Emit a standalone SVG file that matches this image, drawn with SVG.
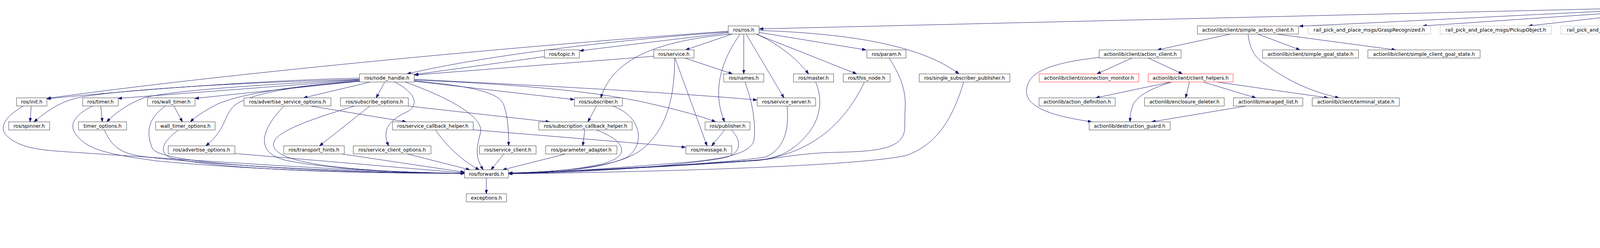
<svg xmlns="http://www.w3.org/2000/svg" width="5825" height="635" viewBox="0 0 5825 635">
<style>
rect{fill:#ffffff;stroke:#404040;stroke-width:1}
.ext rect{stroke:#bfbfbf}
.red rect{stroke:#ff3030}
.root rect{fill:#bfbfbf;stroke:#404040}
text{font-family:"DejaVu Sans",Verdana,sans-serif;font-size:12.5px;fill:#000;text-anchor:middle}
#edges path{fill:none;stroke:#191970;stroke-width:1;marker-end:url(#arr)}
</style>
<defs>
<marker id="arr" markerWidth="10" markerHeight="7" refX="10" refY="3.5" orient="auto" markerUnits="userSpaceOnUse"><path d="M0,0 L10,3.5 L0,7 z" fill="#191970" stroke="#191970" stroke-width="1"/></marker>
</defs>
<rect x="0" y="0" width="5825" height="635" style="fill:#fff;stroke:none"/>
<g id="edges">
<path d="M4294,18 L1944,74"/>
<path d="M4294,20 C3900,38 3600,55 3326,67"/>
<path d="M4294,22 L3642,66.4"/>
<path d="M4294,23 L3913,66.4"/>
<path d="M4330,25.8 L4205,66.4"/>
<path d="M4390,25.8 L4517,66.4"/>
<path d="M4425,24 L4765,66.4"/>
<path d="M4425,22.5 L4997,66.4"/>
<path d="M4425,20 L5285,66.4"/>
<path d="M4425,18 C4900,32 5300,50 5582,66.4"/>
<path d="M1864,80 C1400,112 600,185 120,252"/>
<path d="M1864,82 C1600,100 1250,140 1042,189.2"/>
<path d="M1864,84 L1484,130"/>
<path d="M1873,87 C1680,105 1570,150 1538,250.6"/>
<path d="M1875,87 L1755,127.8"/>
<path d="M1895,87 C1850,150 1820,230 1855,312"/>
<path d="M1904,87.2 L1904,189.2"/>
<path d="M1910,87 L2007,250.6"/>
<path d="M1935,87 C1990,110 2040,150 2070,189.2"/>
<path d="M1940,89 L2193,189.2"/>
<path d="M1943,83 L2217,127.8"/>
<path d="M1943,78 C2150,85 2350,110 2455,189.2"/>
<path d="M1394,145 L1061,191"/>
<path d="M1674,144 L1061,192"/>
<path d="M1753,148.6 L1875,189.2"/>
<path d="M1728,148.6 L1810,373.4"/>
<path d="M1727,148.6 C1728,260 1700,340 1640,385 C1590,420 1500,437 1302,443"/>
<path d="M920,200 C700,205 400,225 120,253"/>
<path d="M920,203 C600,212 300,230 200,250 C150,262 120,285 87,312"/>
<path d="M920,204 C700,215 450,230 370,250 C330,265 300,285 273,312"/>
<path d="M920,205 L302,252"/>
<path d="M920,208 L499,252"/>
<path d="M920,207 C750,220 620,240 560,265 C530,280 505,295 487,312"/>
<path d="M920,208 C750,220 640,240 600,270 C570,300 580,330 527,373.4"/>
<path d="M948,210 L777,250.6"/>
<path d="M985,210 L963,250.6"/>
<path d="M1010,210 C1060,235 1075,265 1045,285 C1000,305 975,330 995,373.4"/>
<path d="M1037,210 C1150,250 1240,300 1230,340 C1220,380 1215,400 1237,434.8"/>
<path d="M1060,207 C1200,220 1280,235 1290,270 C1300,300 1302,330 1302,373.4"/>
<path d="M1060,205 C1300,215 1500,230 1650,262 C1720,278 1780,292 1832,312"/>
<path d="M1060,203 C1300,215 1700,235 1938,256"/>
<path d="M1060,208 L1470,255"/>
<path d="M80,271.4 L77,312"/>
<path d="M60,271.4 C10,300 -5,330 20,350 C60,385 120,385 220,392 C500,410 900,440 1189,444"/>
<path d="M258,271.4 L262,312"/>
<path d="M237,271.4 C190,295 175,320 195,345 C225,385 280,395 400,412 C700,440 1000,443 1189,444"/>
<path d="M267,332.8 C285,370 300,390 360,400 C600,430 1000,443 1189,444"/>
<path d="M445,271.4 L467,312"/>
<path d="M423,271.4 C385,300 370,330 390,380 C410,420 800,440 1189,444"/>
<path d="M457,332.8 C420,360 400,390 440,405 C600,440 1000,444 1189,444"/>
<path d="M601,393 L1189,443"/>
<path d="M727,271.4 C670,330 650,390 730,410 C850,435 1050,443 1189,444"/>
<path d="M795,271.4 L1040,312"/>
<path d="M908,271.4 C780,310 700,340 700,370 C700,420 900,440 1189,444"/>
<path d="M947,271.4 L818,373.4"/>
<path d="M1043,271.4 L1407,312"/>
<path d="M875,394.2 L1189,441"/>
<path d="M1043,394.2 L1203,434.8"/>
<path d="M1115,332.8 C1140,370 1180,410 1227,434.8"/>
<path d="M1211,332.3 L1755,377"/>
<path d="M1290,394.2 L1257,434.8"/>
<path d="M1448,394.2 L1287,434.8"/>
<path d="M1527,271.4 L1505,312"/>
<path d="M1568,271.4 C1650,300 1650,380 1600,405 C1530,435 1400,444 1302,444"/>
<path d="M1497,332.8 L1492,373.4"/>
<path d="M1527,332.8 C1600,360 1620,400 1540,420 C1450,440 1350,443 1302,444"/>
<path d="M1855,332.8 L1822,373.4"/>
<path d="M1872,332.8 C1900,360 1900,395 1850,405 C1700,430 1450,444 1302,444"/>
<path d="M1907,210 C1930,270 1935,330 1930,360 C1920,395 1850,410 1700,420 C1550,432 1400,443 1302,444"/>
<path d="M2015,271.4 C2020,330 2010,380 1960,402 C1850,420 1450,440 1302,444"/>
<path d="M2088,210 C2110,260 2095,310 2070,340 C2030,390 1990,405 1940,410 C1700,425 1450,440 1302,444"/>
<path d="M2213,210 C2160,320 2080,385 1960,408 C1700,428 1450,440 1302,444"/>
<path d="M2276,148.6 C2310,200 2320,240 2317,280 L2316,330 C2312,380 2250,388 2140,390 C2050,392 1990,405 1940,411 C1700,428 1450,440 1302,444"/>
<path d="M2467,210 C2440,300 2400,370 2320,398 C2200,425 1700,440 1302,445"/>
<path d="M1245,455.6 L1245,496.2"/>
<path d="M3150,87.2 L2963,127.8"/>
<path d="M3220,87.2 L3328,127.8"/>
<path d="M3267,87.2 L3573,127.8"/>
<path d="M3195,87.2 C3200,130 3215,150 3240,165 C3300,210 3360,235 3428,250.6"/>
<path d="M2898,148.6 L2808,189.2"/>
<path d="M2940,148.6 L3027,189.2"/>
<path d="M2814,147 C2700,160 2640,180 2630,220 C2615,270 2680,295 2795,312"/>
<path d="M2997,210 L2805,250.6"/>
<path d="M3000,210 C2950,225 2910,245 2900,270 C2893,290 2893,300 2893,312"/>
<path d="M3045,210 L3035,250.6"/>
<path d="M3080,210 L3215,250.6"/>
<path d="M3115,210 L3400,250.6"/>
<path d="M3190,271.4 L2948,312"/>
</g>
<g id="n_pick_and_place" class="root"><rect x="4294.3" y="5" width="131" height="20.8"/><text x="4359.8" y="19.8">pick_and_place.h</text></g>
<g id="n_ros"><rect x="1864.3" y="66.4" width="79" height="20.8"/><text x="1903.8" y="81.2">ros/ros.h</text></g>
<g id="n_sac"><rect x="3065.3" y="66.4" width="258.7" height="20.8"/><text x="3194.6" y="81.2">actionlib/client/simple_action_client.h</text></g>
<g id="n_grasp" class="ext"><rect x="3348.7" y="66.4" width="313.6" height="20.8"/><text x="3505.5" y="81.2">rail_pick_and_place_msgs/GraspRecognized.h</text></g>
<g id="n_pickup" class="ext"><rect x="3686.7" y="66.4" width="285.3" height="20.8"/><text x="3829.3" y="81.2">rail_pick_and_place_msgs/PickupObject.h</text></g>
<g id="n_pickseg" class="ext"><rect x="3995.7" y="66.4" width="360.6" height="20.8"/><text x="4176" y="81.2">rail_pick_and_place_msgs/PickupSegmentedObject.h</text></g>
<g id="n_recog" class="ext"><rect x="4380" y="66.4" width="331" height="20.8"/><text x="4545.5" y="81.2">rail_pick_and_place_msgs/RecognizeAndGrasp.h</text></g>
<g id="n_segment" class="ext"><rect x="4733.7" y="66.4" width="212.6" height="20.8"/><text x="4840" y="81.2">rail_segmentation/Segment.h</text></g>
<g id="n_segobj" class="ext"><rect x="4970.3" y="66.4" width="291.4" height="20.8"/><text x="5116" y="81.2">rail_segmentation/SegmentedObjectList.h</text></g>
<g id="n_pcc"><rect x="5285.3" y="66.4" width="272" height="20.8"/><text x="5421.3" y="81.2">sensor_msgs/point_cloud_conversion.h</text></g>
<g id="n_home" class="ext"><rect x="5581.7" y="66.4" width="239" height="20.8"/><text x="5701.2" y="81.2">wpi_jaco_msgs/HomeArmAction.h</text></g>
<g id="n_topic"><rect x="1393.7" y="127.8" width="89.6" height="20.8"/><text x="1438.5" y="142.6">ros/topic.h</text></g>
<g id="n_service"><rect x="1673.7" y="127.8" width="103" height="20.8"/><text x="1725.2" y="142.6">ros/service.h</text></g>
<g id="n_param"><rect x="2219.3" y="127.8" width="100" height="20.8"/><text x="2269.3" y="142.6">ros/param.h</text></g>
<g id="n_action_client"><rect x="2814" y="127.8" width="209.7" height="20.8"/><text x="2918.9" y="142.6">actionlib/client/action_client.h</text></g>
<g id="n_sgs"><rect x="3232" y="127.8" width="245.7" height="20.8"/><text x="3354.9" y="142.6">actionlib/client/simple_goal_state.h</text></g>
<g id="n_scgs"><rect x="3501.7" y="127.8" width="287.3" height="20.8"/><text x="3645.4" y="142.6">actionlib/client/simple_client_goal_state.h</text></g>
<g id="n_node_handle"><rect x="920.3" y="189.2" width="140" height="20.8"/><text x="990.3" y="204">ros/node_handle.h</text></g>
<g id="n_names"><rect x="1852.7" y="189.2" width="102.6" height="20.8"/><text x="1904" y="204">ros/names.h</text></g>
<g id="n_master"><rect x="2031.3" y="189.2" width="102.7" height="20.8"/><text x="2082.7" y="204">ros/master.h</text></g>
<g id="n_this_node"><rect x="2158.7" y="189.2" width="120" height="20.8"/><text x="2218.7" y="204">ros/this_node.h</text></g>
<g id="n_ssp"><rect x="2353.3" y="189.2" width="232" height="20.8"/><text x="2469.3" y="204">ros/single_subscriber_publisher.h</text></g>
<g id="n_conn_mon" class="red"><rect x="2660.3" y="189.2" width="255" height="20.8"/><text x="2787.8" y="204">actionlib/client/connection_monitor.h</text></g>
<g id="n_client_helpers" class="red"><rect x="2939.3" y="189.2" width="217.4" height="20.8"/><text x="3048" y="204">actionlib/client/client_helpers.h</text></g>
<g id="n_init"><rect x="42.3" y="250.6" width="77.7" height="20.8"/><text x="81.2" y="265.4">ros/init.h</text></g>
<g id="n_timer"><rect x="211.7" y="250.6" width="91" height="20.8"/><text x="257.2" y="265.4">ros/timer.h</text></g>
<g id="n_wall_timer"><rect x="377.7" y="250.6" width="121.6" height="20.8"/><text x="438.5" y="265.4">ros/wall_timer.h</text></g>
<g id="n_aso"><rect x="624.7" y="250.6" width="222.6" height="20.8"/><text x="736" y="265.4">ros/advertise_service_options.h</text></g>
<g id="n_so"><rect x="871.7" y="250.6" width="173.6" height="20.8"/><text x="958.5" y="265.4">ros/subscribe_options.h</text></g>
<g id="n_subscriber"><rect x="1470.3" y="250.6" width="123" height="20.8"/><text x="1531.8" y="265.4">ros/subscriber.h</text></g>
<g id="n_service_server"><rect x="1938.3" y="250.6" width="149.7" height="20.8"/><text x="2013.2" y="265.4">ros/service_server.h</text></g>
<g id="n_action_def"><rect x="2660" y="250.6" width="195" height="20.8"/><text x="2757.5" y="265.4">actionlib/action_definition.h</text></g>
<g id="n_encl"><rect x="2930" y="250.6" width="204" height="20.8"/><text x="3032" y="265.4">actionlib/enclosure_deleter.h</text></g>
<g id="n_managed"><rect x="3157.7" y="250.6" width="177.6" height="20.8"/><text x="3246.5" y="265.4">actionlib/managed_list.h</text></g>
<g id="n_terminal"><rect x="3359.3" y="250.6" width="223" height="20.8"/><text x="3470.8" y="265.4">actionlib/client/terminal_state.h</text></g>
<g id="n_spinner"><rect x="22.3" y="312" width="104.7" height="20.8"/><text x="74.7" y="326.8">ros/spinner.h</text></g>
<g id="n_timer_opt"><rect x="201" y="312" width="123" height="20.8"/><text x="262.5" y="326.8">timer_options.h</text></g>
<g id="n_wall_timer_opt"><rect x="398.3" y="312" width="152.4" height="20.8"/><text x="474.5" y="326.8">wall_timer_options.h</text></g>
<g id="n_sch"><rect x="1004.7" y="312" width="206.6" height="20.8"/><text x="1108" y="326.8">ros/service_callback_helper.h</text></g>
<g id="n_subcb"><rect x="1379.3" y="312" width="239" height="20.8"/><text x="1498.8" y="326.8">ros/subscription_callback_helper.h</text></g>
<g id="n_publisher"><rect x="1805" y="312" width="115" height="20.8"/><text x="1862.5" y="326.8">ros/publisher.h</text></g>
<g id="n_destruction"><rect x="2788.3" y="312" width="207.4" height="20.8"/><text x="2892" y="326.8">actionlib/destruction_guard.h</text></g>
<g id="n_adv_opt"><rect x="430.7" y="373.4" width="170.6" height="20.8"/><text x="516" y="388.2">ros/advertise_options.h</text></g>
<g id="n_transport"><rect x="726.3" y="373.4" width="155" height="20.8"/><text x="803.8" y="388.2">ros/transport_hints.h</text></g>
<g id="n_sco"><rect x="904.3" y="373.4" width="199" height="20.8"/><text x="1003.8" y="388.2">ros/service_client_options.h</text></g>
<g id="n_service_client"><rect x="1227.7" y="373.4" width="144.6" height="20.8"/><text x="1300" y="388.2">ros/service_client.h</text></g>
<g id="n_param_adapter"><rect x="1396.7" y="373.4" width="182.6" height="20.8"/><text x="1488" y="388.2">ros/parameter_adapter.h</text></g>
<g id="n_message"><rect x="1756" y="373.4" width="117.3" height="20.8"/><text x="1814.7" y="388.2">ros/message.h</text></g>
<g id="n_forwards"><rect x="1189" y="434.8" width="112.3" height="20.8"/><text x="1245.2" y="449.6">ros/forwards.h</text></g>
<g id="n_exceptions"><rect x="1193.7" y="496.2" width="103" height="20.8"/><text x="1245.2" y="511">exceptions.h</text></g>
</svg>
